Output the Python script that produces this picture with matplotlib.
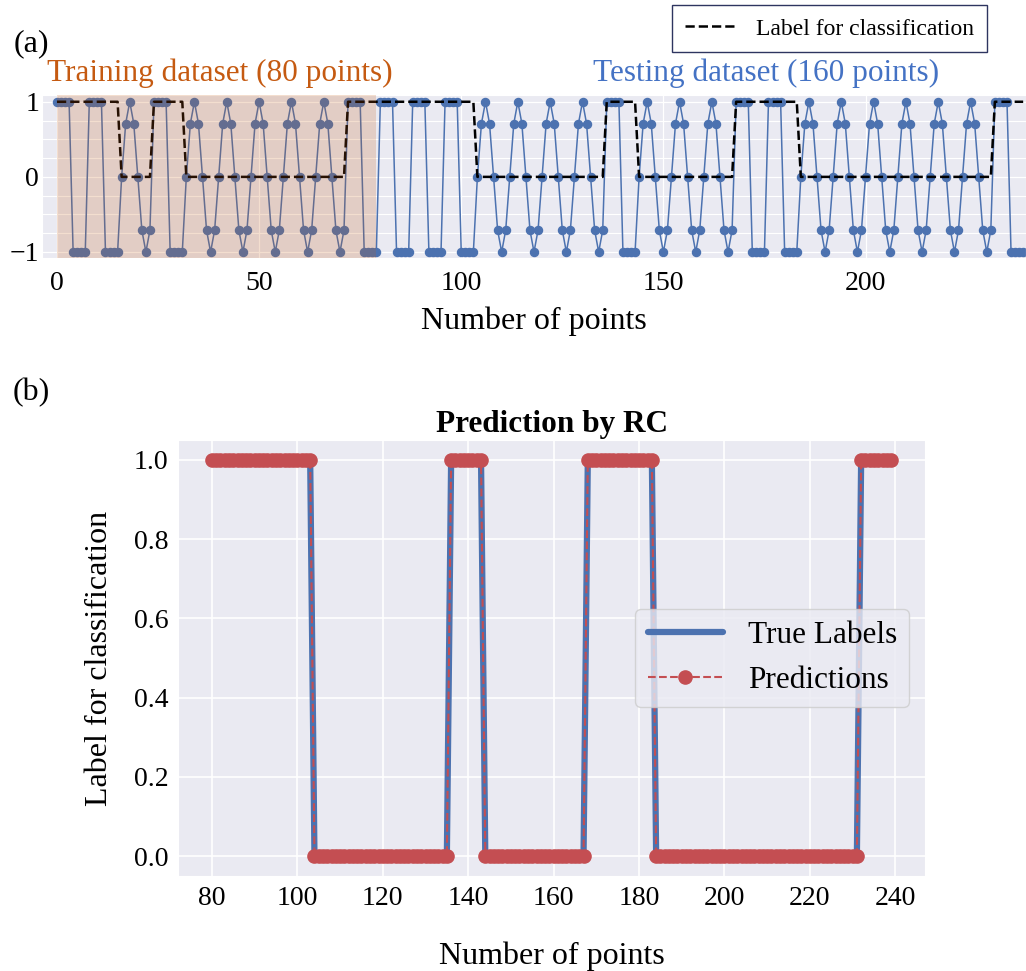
import matplotlib
matplotlib.use("Agg")
import matplotlib.pyplot as plt
from matplotlib.ticker import MultipleLocator
from matplotlib.lines import Line2D
import seaborn as sns

# shapes of one 8-point input segment
square_seg = [1, 1, 1, 1, -1, -1, -1, -1]
sine_seg = [0, 0.71, 1, 0.71, 0, -0.71, -1, -0.71]

# class of each 8-point segment (1 = square, 0 = sine), 30 segments = 240 points
seg_labels = [1, 1, 0, 1, 0, 0, 0, 0, 0, 1,
              1, 1, 1, 0, 0, 0, 0, 1, 0, 0,
              0, 1, 1, 0, 0, 0, 0, 0, 0, 1]
# RC predictions for the 20 testing segments (points 80-239)
pred_seg_labels = [1, 1, 1, 0, 0, 0, 0, 1, 0, 0,
                   0, 1, 1, 0, 0, 0, 0, 0, 0, 1]

n_train = 80

signal = []
labels = []
for lab in seg_labels:
    signal += square_seg if lab == 1 else sine_seg
    labels += [lab] * len(square_seg)
x_all = list(range(len(signal)))

x_test = x_all[n_train:]
true_test = labels[n_train:]
pred_test = []
for lab in pred_seg_labels:
    pred_test += [lab] * len(square_seg)

sns.set_style("darkgrid")
plt.rcParams['font.family'] = ['Liberation Serif', 'DejaVu Serif']
plt.rcParams['text.color'] = 'black'
plt.rcParams['axes.labelcolor'] = 'black'
plt.rcParams['xtick.color'] = 'black'
plt.rcParams['ytick.color'] = 'black'

W, H = 1026, 971
fig = plt.figure(figsize=(W / 100, H / 100), dpi=100)

# ---- panel (a)
ax1 = fig.add_axes([42 / W, 1 - 258 / H, 984 / W, 163 / H])
ax1.plot(x_all, signal, color='#4C72B0', marker='o', markersize=5.8, lw=1.1)
ax1.plot(x_all, labels, color='black', ls='--', lw=1.8)
ax1.axvspan(0, n_train - 1, color='#C55A11', alpha=0.2, lw=0, zorder=3)
ax1.set_xlim(-3.7, 239.7)
ax1.set_ylim(-1.08, 1.09)
ax1.set_yticks([-1, 0, 1])
ax1.yaxis.set_minor_locator(MultipleLocator(0.25))
ax1.set_xticks([0, 50, 100, 150, 200])
ax1.grid(which='minor', axis='y', color='white', lw=0.8)
ax1.grid(which='major', color='white', lw=0.9)
ax1.tick_params(axis='x', labelsize=20, pad=9, length=0)
ax1.tick_params(axis='y', labelsize=20, pad=2, length=0)
ax1.tick_params(which='minor', length=0)
ax1.set_xlabel('Number of points', fontsize=23, labelpad=8)

fig.text(47 / W, 1 - 81 / H, 'Training dataset (80 points)', color='#C55A11',
         fontsize=22.5, va='baseline', ha='left')
fig.text(593 / W, 1 - 81 / H, 'Testing dataset (160 points)', color='#4472C4',
         fontsize=22.5, va='baseline', ha='left')
fig.text(14 / W, 1 - 44 / H, '(a)', fontsize=23, va='center', ha='left')
fig.text(13 / W, 1 - 393 / H, '(b)', fontsize=23, va='center', ha='left')

leg1 = fig.legend(handles=[Line2D([], [], color='black', ls='--', lw=1.8)],
                  labels=['Label for classification'], loc='upper right',
                  bbox_to_anchor=(987 / W, 1 - 5 / H), fontsize=17,
                  fancybox=False, framealpha=1, edgecolor='#2E3560',
                  handlelength=2.2, borderpad=0.55, borderaxespad=0)
leg1.get_frame().set_linewidth(1.0)
leg1.get_frame().set_facecolor('white')

# ---- panel (b)
ax2 = fig.add_axes([178 / W, 95 / H, 747 / W, 436 / H])
ax2.plot(x_test, true_test, color='#4C72B0', lw=4.5, label='True Labels')
ax2.plot(x_test, pred_test, color='#C44E52', ls='--', lw=1.5, marker='o',
         markersize=9.5, label='Predictions')
ax2.set_xticks([80, 100, 120, 140, 160, 180, 200, 220, 240])
ax2.set_yticks([0.0, 0.2, 0.4, 0.6, 0.8, 1.0])
ax2.grid(color='white', lw=1.2)
ax2.tick_params(axis='x', labelsize=20, pad=7, length=0)
ax2.tick_params(axis='y', labelsize=20, pad=7, length=0)
ax2.set_xlabel('Number of points', fontsize=23, labelpad=22)
ax2.set_ylabel('Label for classification', fontsize=23, labelpad=14)
ax2.set_title('Prediction by RC', fontsize=22.5, fontweight='bold', pad=6)
ax2.legend(loc='center right', fontsize=22.5, handlelength=2.4)

fig.savefig('out.png', dpi=100)
